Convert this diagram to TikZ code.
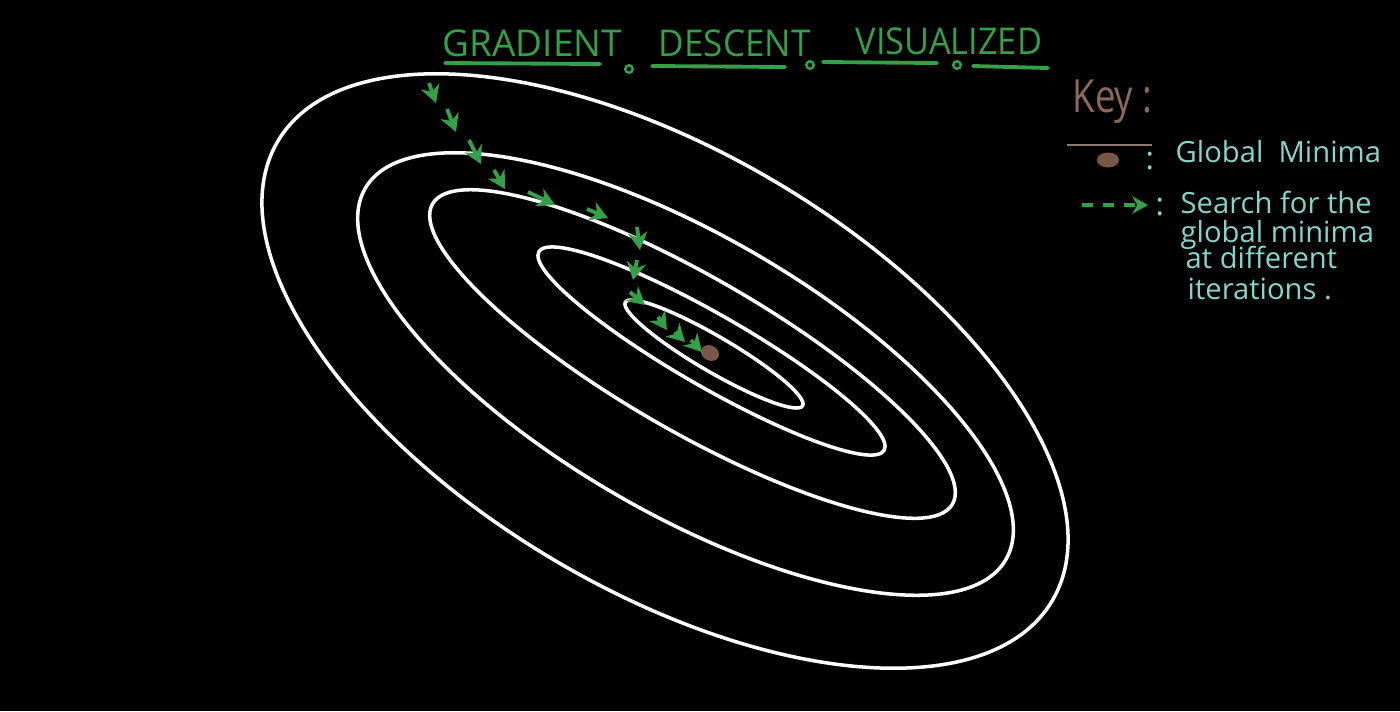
\documentclass[tikz,border=0pt]{standalone}
\usepackage{fontspec}
\setmainfont{Open Sans}
\usetikzlibrary{arrows.meta,shapes.geometric}
\definecolor{gdgreen}{RGB}{52,160,72}
\definecolor{keycyan}{RGB}{132,214,204}
\definecolor{dotbrown}{RGB}{122,86,70}
\definecolor{keybrown}{RGB}{140,106,90}
\definecolor{linebrown}{RGB}{140,122,110}
\begin{document}
\begin{tikzpicture}[x=0.01cm,y=-0.01cm,
  contour/.style={draw=white,line width=1pt},
  gdarrow/.style={draw=gdgreen,line width=1.1pt,-{Stealth[length=5pt,width=5.5pt]}},
  titletext/.style={text=gdgreen,font=\fontsize{10.5}{12}\selectfont,anchor=base west,inner sep=0pt},
  underl/.style={draw=gdgreen,line width=1.1pt,line cap=round},
  smallo/.style={draw=gdgreen,line width=0.7pt},
  keytext/.style={text=keycyan,font=\fontsize{8.3}{10}\selectfont,anchor=base west,inner sep=0pt},
  keycolon/.style={text=keycyan,font=\fontsize{9}{10}\selectfont,anchor=base west,inner sep=0pt}]
\fill[black] (0,0) rectangle (1400,711);
\useasboundingbox (0,0) rectangle (1400,711);

% contours
\draw[contour,rotate around={-30.7:(665,371)}] (665,371) ellipse [x radius=4.50cm, y radius=2.19cm];
\draw[contour,rotate around={-30.1:(685.5,374)}] (685.5,374) ellipse [x radius=3.70cm, y radius=1.39cm];
\draw[contour,rotate around={-30:(692.5,354)}] (692.5,354) ellipse [x radius=3.00cm, y radius=0.77cm];
\draw[contour,rotate around={-29.9:(711.5,351)}] (711.5,351) ellipse [x radius=1.99cm, y radius=0.36cm];
\draw[contour,rotate around={-30.3:(714,354)}] (714,354) ellipse [x radius=1.026cm, y radius=0.177cm];

% global minimum
\node (gmin) [ellipse,fill=dotbrown,inner sep=0pt,minimum width=0.19cm,minimum height=0.15cm,rotate=-25] at (710,353) {};

% descent steps
\coordinate (a1) at (429,83);  \coordinate (b1) at (436,103);
\coordinate (a2) at (447,109); \coordinate (b2) at (456,132);
\coordinate (a3) at (469,140); \coordinate (b3) at (481,164);
\coordinate (a4) at (494,170); \coordinate (b4) at (505,189);
\coordinate (a5) at (528,192); \coordinate (b5) at (555,205);
\coordinate (a6) at (587,209); \coordinate (b6) at (608,218);
\coordinate (a7) at (637,227); \coordinate (b7) at (640,250);
\coordinate (a8) at (637,260); \coordinate (b8) at (633,280);
\coordinate (a9) at (630,292); \coordinate (b9) at (645,305);
\coordinate (a10) at (658,317); \coordinate (b10) at (667,330);
\coordinate (a11) at (675,332); \coordinate (b11) at (685,342);
\coordinate (a12) at (691,340); \coordinate (b12) at (702,352);
\foreach \i in {1,...,12} {\draw[gdarrow] (a\i) -- (b\i);}

% title
\node (t1) [titletext] at (442,56) {GRADIENT};
\node (t2) [titletext,xscale=0.95] at (658,56) {DESCENT};
\node (t3) [titletext,xscale=0.93] at (855,54) {VISUALIZED};
\coordinate (u1a) at (445,63); \coordinate (u1b) at (600,64);
\coordinate (u2a) at (652,66); \coordinate (u2b) at (785,67);
\coordinate (u3a) at (823,62); \coordinate (u3b) at (937,63);
\coordinate (u4a) at (973,66); \coordinate (u4b) at (1048,68);
\draw[underl] (u1a) -- (u1b);
\draw[underl] (u2a) -- (u2b);
\draw[underl] (u3a) -- (u3b);
\draw[underl] (u4a) -- (u4b);
\node (o1) [circle,smallo,inner sep=0pt,minimum size=0.075cm] at (629,69) {};
\node (o2) [circle,smallo,inner sep=0pt,minimum size=0.075cm] at (810,65) {};
\node (o3) [circle,smallo,inner sep=0pt,minimum size=0.075cm] at (957,65) {};

% key
\node (key) [text=keybrown,font=\fontsize{13}{15}\selectfont,anchor=base west,inner sep=0pt,xscale=0.8] at (1072,112) {Key :};
\coordinate (kl1) at (1067,145); \coordinate (kl2) at (1152,145);
\draw[draw=linebrown,line width=0.6pt] (kl1) -- (kl2);
\node (kdot) [ellipse,fill=dotbrown,inner sep=0pt,minimum width=0.22cm,minimum height=0.15cm] at (1108,160) {};
\node (c1) [keycolon] at (1145,169) {:};
\node (gm) [keytext] at (1175,162) {Global\ \ Minima};
\coordinate (ka) at (1082,205); \coordinate (kb) at (1148,205);
\draw[draw=gdgreen,line width=0.9pt,dash pattern=on 3.2pt off 2.8pt,-{Stealth[length=4.5pt,width=5pt]}] (ka) -- (kb);
\node (c2) [keycolon] at (1155,215) {:};
\node (s1) [keytext] at (1180,213) {Search for the};
\node (s2) [keytext] at (1180,242) {global minima};
\node (s3) [keytext] at (1185,268) {at different};
\node (s4) [keytext] at (1187,299) {iterations .};
\end{tikzpicture}
\end{document}
